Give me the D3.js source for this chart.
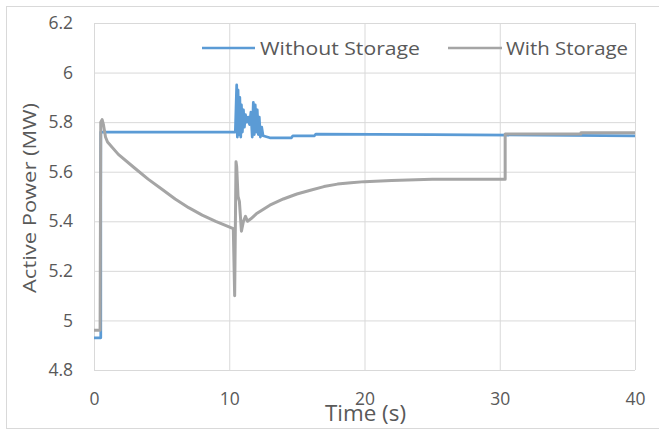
<!DOCTYPE html>
<html>
<head>
<meta charset="utf-8">
<script src="https://cdn.jsdelivr.net/npm/d3@7"></script>
<style>
  body { margin: 0; background: #fff; }
  svg text { font-family: "Open Sans", sans-serif; fill: #595959; }
</style>
</head>
<body>
<svg id="chart" width="659" height="431"></svg>
<script>
`use strict`;

const seriesNames = [`Without Storage`, `With Storage`];
const seriesColors = [`#5b9bd5`, `#a5a5a5`];

const xTicks = [0, 10, 20, 30, 40];
const yTicks = [4.8, 5, 5.2, 5.4, 5.6, 5.8, 6, 6.2];

// [time (s), active power (MW)]
const withoutStorage = [
  [0, 4.93], [0.5, 4.93], [0.5, 5.76], [10.45, 5.76],
  [10.55, 5.95], [10.6, 5.74], [10.65, 5.93], [10.72, 5.75], [10.78, 5.9], [10.85, 5.74],
  [10.9, 5.87], [10.97, 5.76], [11.05, 5.85], [11.12, 5.78], [11.2, 5.83], [11.3, 5.8],
  [11.4, 5.82], [11.5, 5.79], [11.6, 5.84], [11.7, 5.74], [11.78, 5.88], [11.85, 5.75],
  [11.92, 5.87], [12.0, 5.76], [12.07, 5.85], [12.15, 5.75], [12.22, 5.82], [12.3, 5.74],
  [12.4, 5.78], [12.5, 5.745], [13, 5.737], [14.6, 5.737], [14.7, 5.745], [16.3, 5.745],
  [16.4, 5.752], [25, 5.75], [40, 5.745]
];

const withStorage = [
  [0, 4.96], [0.45, 4.96], [0.5, 5.8], [0.6, 5.81], [0.7, 5.79], [0.85, 5.74], [1, 5.72],
  [1.8, 5.67], [3, 5.615], [4, 5.57], [5, 5.53], [6, 5.49], [7, 5.455], [8, 5.425],
  [9, 5.4], [10.3, 5.37], [10.4, 5.1], [10.5, 5.64], [10.55, 5.62], [10.65, 5.5],
  [10.75, 5.48], [10.9, 5.36], [11.05, 5.4], [11.2, 5.42], [11.35, 5.4], [11.6, 5.41],
  [12, 5.43], [13, 5.465], [14, 5.49], [15, 5.51], [16, 5.525], [17, 5.54], [18, 5.55],
  [19, 5.555], [20, 5.56], [22, 5.565], [25, 5.57], [30.4, 5.57], [30.4, 5.752],
  [36, 5.752], [36, 5.757], [40, 5.757]
];

const SVG = d3.select(`#chart`);

// outer chart frame
SVG.append(`rect`)
  .attr(`x`, 6.5).attr(`y`, 6.5)
  .attr(`width`, 700).attr(`height`, 422)
  .attr(`fill`, `#fff`).attr(`stroke`, `#d9d9d9`);

const X = d3.scaleLinear().domain([0, 40]).range([94, 635]);
const Y = d3.scaleLinear().domain([4.8, 6.2]).range([370, 23]);

let yAxis = SVG.append(`g`)
  .attr(`transform`, `translate(${X(0)},0)`)
  .call(d3.axisLeft(Y).tickValues(yTicks).tickSize(-(X(40) - X(0))).tickPadding(21)
    .tickFormat(d => String(+d.toFixed(1))));

let xAxis = SVG.append(`g`)
  .attr(`transform`, `translate(0,${Y(4.8)})`)
  .call(d3.axisBottom(X).tickValues(xTicks).tickSize(-(Y(4.8) - Y(6.2))).tickPadding(22.5));

[yAxis, xAxis].forEach(A => {
  A.select(`.domain`).remove();
  A.selectAll(`line`).attr(`stroke`, `#d9d9d9`).attr(`stroke-width`, 1);
  A.selectAll(`text`).style(`font-size`, `17.5px`).attr(`fill`, `#595959`);
});

// legend
const legend = [[202, 255, 260, 160], [448, 502, 506, 122]];

legend.forEach((L, i) => {
  SVG.append(`path`)
    .attr(`d`, `M${L[0]} 48 L${L[1]} 48`)
    .attr(`stroke`, seriesColors[i]).attr(`stroke-width`, 2.5);
  SVG.append(`text`)
    .attr(`x`, L[2]).attr(`y`, 55)
    .attr(`textLength`, L[3]).attr(`lengthAdjust`, `spacingAndGlyphs`)
    .style(`font-size`, `18px`)
    .text(seriesNames[i]);
});

const line = d3.line().x(d => X(d[0])).y(d => Y(d[1]));

[withoutStorage, withStorage].forEach((S, i) => {
  SVG.append(`path`)
    .datum(S)
    .attr(`d`, line)
    .attr(`fill`, `none`)
    .attr(`stroke`, seriesColors[i])
    .attr(`stroke-width`, i ? 3 : 2.75)
    .attr(`stroke-linejoin`, `round`);
});

// axis titles
SVG.append(`text`)
  .attr(`x`, 325).attr(`y`, 421)
  .attr(`textLength`, 81).attr(`lengthAdjust`, `spacingAndGlyphs`)
  .style(`font-size`, `21px`)
  .text(`Time (s)`);

SVG.append(`text`)
  .attr(`transform`, `translate(36,198) rotate(-90)`)
  .attr(`text-anchor`, `middle`)
  .attr(`textLength`, 190).attr(`lengthAdjust`, `spacingAndGlyphs`)
  .style(`font-size`, `19px`)
  .text(`Active Power (MW)`);
</script>
</body>
</html>
